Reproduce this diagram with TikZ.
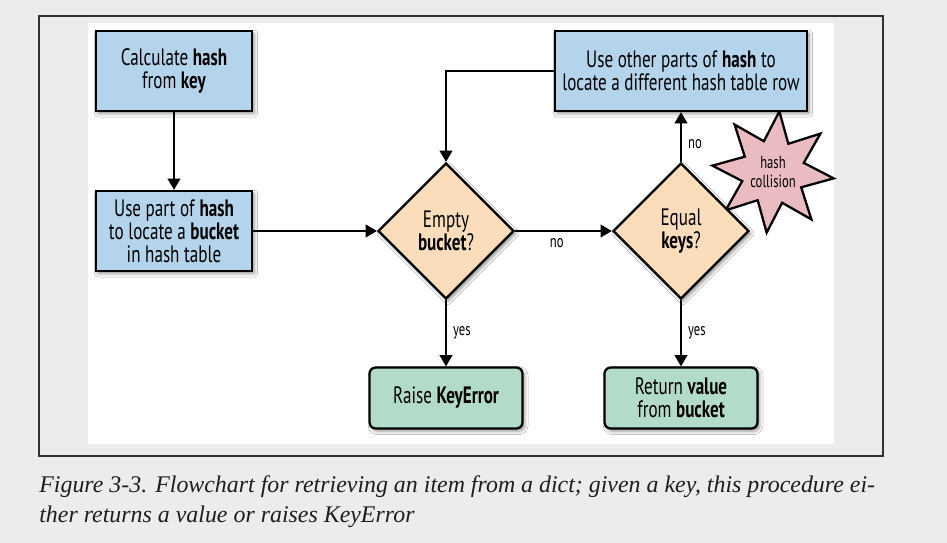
\documentclass[tikz,border=0pt]{standalone}
\usepackage{fontspec}
\usetikzlibrary{shapes.geometric}
\usetikzlibrary{arrows.meta}
\usetikzlibrary{shadows.blur}
\newfontfamily\chartfont[FakeStretch=0.72]{PT Sans}
\newfontfamily\capfont{Liberation Serif}
\definecolor{pagegray}{RGB}{236,236,236}
\definecolor{framegray}{RGB}{50,50,50}
\definecolor{boxblue}{RGB}{179,212,234}
\definecolor{askpeach}{RGB}{251,221,187}
\definecolor{endgreen}{RGB}{179,220,200}
\definecolor{bangpink}{RGB}{234,188,194}
\definecolor{capgray}{RGB}{30,30,30}

\begin{document}
\begin{tikzpicture}[x=0.02cm, y=-0.02cm,
  shade/.style={blur shadow={shadow xshift=1.2pt, shadow yshift=-1.5pt, shadow blur radius=2pt, shadow opacity=45}},
  stepbox/.style={draw, line width=1.3pt, fill=boxblue, minimum width=3.12cm, minimum height=1.6cm, inner sep=0pt, align=center, font=\chartfont\fontsize{13.5}{13}\selectfont, shade},
  ask/.style={draw, diamond, aspect=1, line width=1.3pt, fill=askpeach, minimum width=2.72cm, minimum height=2.72cm, inner sep=0pt, align=center, font=\chartfont\fontsize{13.5}{13}\selectfont, shade},
  finish/.style={draw, rectangle, rounded corners=3.5pt, line width=1.3pt, fill=endgreen, minimum width=3.06cm, minimum height=1.22cm, inner sep=0pt, align=center, font=\chartfont\fontsize{13.5}{13}\selectfont, shade},
  flow/.style={line width=1.1pt, -{Triangle[length=6.4pt, width=7.2pt]}},
  lbl/.style={font=\chartfont\fontsize{10}{10}\selectfont, inner sep=3.5pt}]
  \useasboundingbox[fill=pagegray] (0,0) rectangle (947,543);
  % frame and white panel
  \draw[framegray, line width=0.6pt] (39,16) rectangle (883,456);
  \fill[white] (88,23) rectangle (834,444);
  % collision star goes under the diamond
  \node[draw, star, star points=8, star point ratio=1.9, shape border rotate=-6, minimum size=2.3cm, inner sep=0pt, line width=1.3pt, fill=bangpink, align=center, font=\chartfont\fontsize{10}{11}\selectfont] (bang) at (773,172) {hash\\collision};
  % boxes
  \node[stepbox] (calc) at (174,71) {Calculate \textbf{hash}\\from \textbf{key}};
  \node[stepbox] (bucket) at (174,231) {Use part of \textbf{hash}\\to locate a \textbf{bucket}\\in hash table};
  \node[stepbox, minimum width=5.04cm] (other) at (681,71) {Use other parts of \textbf{hash} to\\locate a different hash table row};
  \node[ask] (empty) at (446,231) {Empty\\\textbf{bucket}?};
  \node[ask] (equal) at (681,231) {Equal\\\textbf{keys}?};
  \node[finish] (raise) at (446,398) {Raise \textbf{KeyError}};
  \node[finish] (ret) at (681,398) {Return \textbf{value}\\from \textbf{bucket}};
  % connectors
  \draw[flow] (calc) -- (bucket);
  \draw[flow] (bucket) -- (empty);
  \draw[flow] (other) -| (empty);
  \draw[flow] (empty) -- node[lbl, below, pos=0.43] {no} (equal);
  \draw[flow] (empty) -- node[lbl, right] {yes} (raise);
  \draw[flow] (equal) -- node[lbl, right, pos=0.35] {no} (other);
  \draw[flow] (equal) -- node[lbl, right] {yes} (ret);
  % caption
  \node[anchor=base west, inner sep=0pt, text=capgray, font=\capfont\itshape\fontsize{13.6}{15}\selectfont] (cap1) at (39,493) {Figure 3-3. Flowchart for retrieving an item from a dict; given a key, this procedure ei-};
  \node[anchor=base west, inner sep=0pt, text=capgray, font=\capfont\itshape\fontsize{13.6}{15}\selectfont] (cap2) at (39,523) {ther returns a value or raises KeyError};
\end{tikzpicture}
\end{document}
